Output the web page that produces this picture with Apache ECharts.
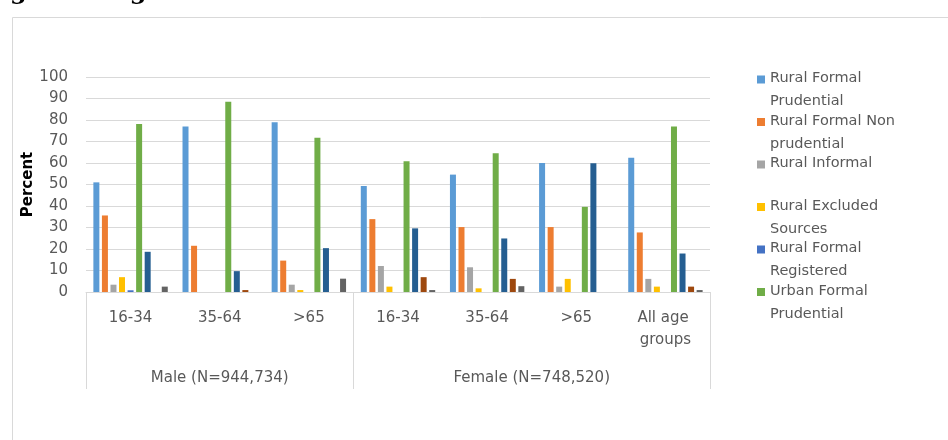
<!DOCTYPE html>
<html>
<head>
<meta charset="utf-8">
<script src="https://cdn.jsdelivr.net/npm/echarts@6/dist/echarts.min.js"></script>
<style>
html,body{margin:0;padding:0;background:#fff;}
#c{width:948px;height:440px;}
</style>
</head>
<body>
<div id="c"></div>
<script>
// ---- data ----
var titleText = 'gender-age cohorts';
var categories = ['16-34', '35-64', '>65', '16-34', '35-64', '>65', 'All age groups'];
var groupLabels = ['Male (N=944,734)', 'Female (N=748,520)'];
var groupSizes = [3, 4];
var yTicks = [0, 10, 20, 30, 40, 50, 60, 70, 80, 90, 100];
var yAxisTitle = 'Percent';

var seriesNames = [
  'Rural Formal\nPrudential',
  'Rural Formal Non\nprudential',
  'Rural Informal\n\u00a0',
  'Rural Excluded\nSources',
  'Rural Formal\nRegistered',
  'Urban Formal\nPrudential',
  'Urban Formal Non prudential',
  'Urban Informal',
  'Urban Excluded Sources'
];
var ruralFormalPrudential    = [51.0, 77.0, 79.0, 49.3, 54.6, 60.0, 62.5];
var ruralFormalNonPrudential = [35.6, 21.5, 14.6, 33.9, 30.2, 30.2, 27.7];
var ruralInformal            = [3.4, 0, 3.4, 12.1, 11.5, 2.5, 6.1];
var ruralExcluded            = [6.9, 0, 0.9, 2.5, 1.7, 6.1, 2.5];
var ruralFormalRegistered    = [0.8, 0, 0, 0, 0, 0, 0];
var urbanFormalPrudential    = [78.1, 88.5, 71.7, 60.8, 64.5, 39.6, 77.0];
var urbanFormalNonPrudential = [18.7, 9.7, 20.4, 29.6, 24.9, 59.9, 17.9];
var urbanInformal            = [0, 0.9, 0, 6.9, 6.1, 0, 2.5];
var urbanExcluded            = [2.5, 0, 6.2, 0.9, 2.7, 0, 0.9];
var seriesValues = [ruralFormalPrudential, ruralFormalNonPrudential, ruralInformal, ruralExcluded,
  ruralFormalRegistered, urbanFormalPrudential, urbanFormalNonPrudential, urbanInformal, urbanExcluded];
var legendCount = 6;

// ---- styles ----
var colors = ['#5B9BD5', '#ED7D31', '#A5A5A5', '#FFC000', '#4472C4', '#70AD47', '#255E91', '#9E480E', '#636363'];
var txt = '#595959';
var font = 'DejaVu Sans';

// group boundaries / centres
var bounds = [0], centres = [], acc = 0;
groupSizes.forEach(function (s) { centres.push(acc + s / 2); acc += s; bounds.push(acc); });

var chart = echarts.init(document.getElementById('c'));
var iconPath = 'path://M0,0L0.01,0L0,0.01Z M0,8.5h8v8h-8Z M8,46L7.99,46L8,45.99Z';

chart.setOption({
  animation: false,
  color: colors,
  graphic: [
    { type: 'rect', left: 10, top: 15, shape: { x: 0, y: 0, width: 1000, height: 500 },
      style: { fill: 'none', stroke: '#D9D9D9', lineWidth: 1 }, silent: true },
    { type: 'text', x: 10, y: -7,
      style: { text: titleText, font: 'bold 24px "DejaVu Serif"', fill: '#000', verticalAlign: 'middle' } }
  ],
  legend: {
    orient: 'vertical', left: 757, top: 67, padding: 0,
    itemWidth: 8, itemHeight: 46, itemGap: -3.5,
    icon: iconPath, selectedMode: false,
    data: seriesNames.slice(0, legendCount),
    textStyle: { fontFamily: font, fontSize: 14.5, color: txt, lineHeight: 23 }
  },
  grid: { left: 86, right: 238, top: 77, bottom: 148, containLabel: false },
  xAxis: [
    {
      type: 'category', data: categories, position: 'bottom',
      axisLine: { show: true, lineStyle: { color: '#D9D9D9', width: 1 } },
      axisTick: { show: false },
      axisLabel: { margin: 15, color: txt, fontFamily: font, fontSize: 15, lineHeight: 22,
        width: 70, overflow: 'break', interval: 0 }
    },
    {
      type: 'value', min: 0, max: categories.length, position: 'bottom',
      axisLine: { show: false },
      splitLine: { show: false },
      axisTick: { show: true, customValues: bounds, length: 97, lineStyle: { color: '#D9D9D9', width: 1 } },
      axisLabel: { customValues: centres, margin: 75, color: txt, fontFamily: font, fontSize: 15, lineHeight: 22,
        formatter: function (v) {
          var i = centres.indexOf(v);
          return i >= 0 ? groupLabels[i] : '';
        } }
    }
  ],
  yAxis: {
    type: 'value', min: yTicks[0], max: yTicks[yTicks.length - 1], interval: yTicks[1] - yTicks[0],
    name: yAxisTitle, nameLocation: 'middle', nameRotate: 90, nameGap: 50, nameMoveOverlap: false,
    nameTextStyle: { fontFamily: font, fontSize: 15, fontWeight: 'bold', color: '#000' },
    axisLine: { show: false }, axisTick: { show: false },
    axisLabel: { margin: 18, color: txt, fontFamily: font, fontSize: 15 },
    splitLine: { lineStyle: { color: '#D9D9D9', width: 1 } }
  },
  series: seriesNames.map(function (n, i) {
    return {
      type: 'bar', name: n, data: seriesValues[i], xAxisIndex: 0,
      barWidth: 6, barGap: '42.5%',
      itemStyle: { color: colors[i] }
    };
  })
});
</script>
</body>
</html>
